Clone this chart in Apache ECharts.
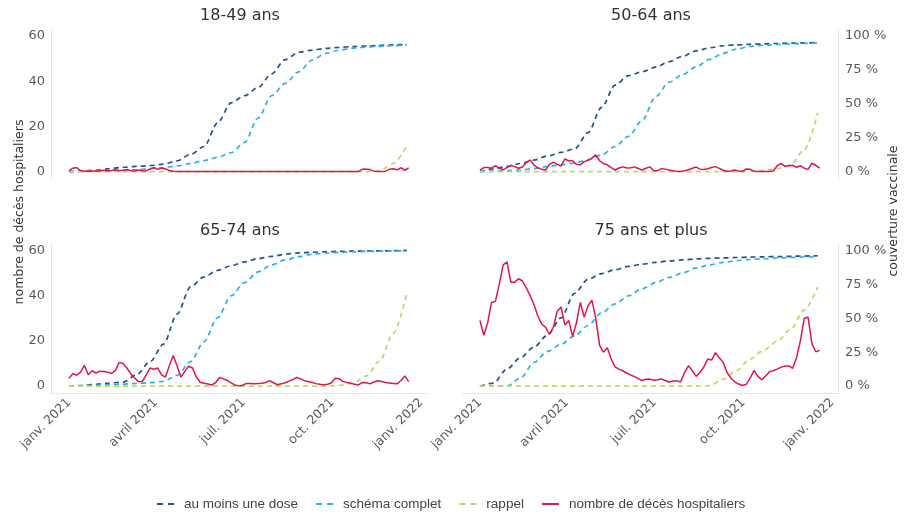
<!DOCTYPE html>
<html>
<head>
<meta charset="utf-8">
<script src="https://cdn.jsdelivr.net/npm/echarts@6/dist/echarts.min.js"></script>
<style>
  html, body { margin: 0; padding: 0; background: #ffffff; }
  #chart { width: 913px; height: 516px; }
</style>
</head>
<body>
<div id="chart"></div>
<script>
// Days are counted from 1 January 2021.
const deathStepDays = 4;      // hospital deaths: one value every 4 days
const coverageStepDays = 14;  // vaccine coverage (%): one value every 14 days

const tickDays = [0, 90, 181, 273, 365];
const tickLabels = ['janv. 2021', 'avril 2021', 'juil. 2021', 'oct. 2021', 'janv. 2022'];
const deathTicks = [0, 20, 40, 60];
const coverageTicks = [0, 25, 50, 75, 100];

const panelTitles = ['18-49 ans', '50-64 ans', '65-74 ans', '75 ans et plus'];
const seriesNames = ['au moins une dose', 'schéma complet', 'rappel', 'nombre de décès hospitaliers'];

// ---- 18-49 ans
const dose1_18_49 = [0, 0.5, 1, 2.2, 3.2, 3.8, 4.4, 5.5, 7.9, 12.7, 18.5, 36, 50.7, 56, 62, 72, 82.5, 88, 89.6, 90.8, 91.6, 92.1, 92.6, 93, 93.4, 93.9];
const complet_18_49 = [0, 0.2, 0.4, 0.7, 1, 1.5, 2, 3, 4.2, 6, 8.1, 10.5, 13.9, 21.5, 39.5, 56, 65, 73.5, 82.3, 87.1, 89.5, 91.1, 91.8, 92.4, 92.9, 93.4];
const rappel_18_49 = [0, 0, 0, 0, 0, 0, 0, 0, 0, 0, 0, 0, 0, 0, 0, 0, 0, 0, 0, 0, 0, 0, 0, 0.5, 6, 19];
const deaths_18_49 = [
  0.3, 1.5, 1.8, 0.5, 0.2, 0.3, 0.2, 0.4, 0.3, 0.6,
  0.3, 0.5, 0.8, 0.4, 0.6, 0.9, 0.5, 0.3, 0.7, 0.4,
  0.3, 1.2, 1.8, 1.0, 1.6, 1.2, 0.5, 0.2, 0, 0,
  0, 0, 0, 0, 0, 0, 0, 0, 0, 0,
  0, 0, 0, 0, 0, 0, 0, 0, 0, 0,
  0, 0, 0, 0, 0, 0, 0, 0, 0, 0,
  0, 0, 0, 0, 0, 0, 0, 0, 0, 0,
  0, 0, 0, 0, 0, 0.1, 1.0, 1.1, 0.9, 0.2,
  0, 0, 0.2, 1.0, 1.3, 0.8, 1.7, 0.6, 1.7
];

// ---- 50-64 ans
const dose1_50_64 = [0, 2, 3.8, 6, 8.5, 11.5, 14.2, 16.7, 28.8, 47.3, 63.7, 70.8, 73.6, 77, 81, 85, 89, 91.3, 92.8, 93.5, 93.9, 94.2, 94.5, 94.7, 94.9, 95.1];
const complet_50_64 = [0, 0.3, 0.7, 1.3, 2.2, 3.8, 5, 6.3, 8.8, 12.3, 18.5, 26, 37.6, 55.2, 65.9, 71.6, 77.3, 82.7, 87.2, 90.4, 92.3, 93.2, 93.7, 94.1, 94.5, 94.8];
const rappel_50_64 = [0, 0, 0, 0, 0, 0, 0, 0, 0, 0, 0, 0, 0, 0, 0, 0, 0, 0, 0, 0, 0.3, 0.8, 2, 5, 16, 43.5];
const deaths_50_64 = [
  0.7, 1.8, 1.8, 1.5, 2.6, 1.5, 0.8, 1.8, 2.8, 2.2,
  1.5, 2.0, 4.0, 5.1, 2.9, 1.7, 1.0, 0.7, 3.2, 4.2,
  3.2, 2.5, 5.6, 4.8, 4.8, 3.2, 3.0, 4.4, 5.0, 6.0,
  7.4, 4.8, 3.6, 3.0, 1.8, 0.7, 1.6, 2.1, 1.6, 1.7,
  2.1, 1.4, 0.7, 1.5, 2.1, 0.5, 0.4, 1.3, 1.1, 0.7,
  0.4, 0.1, 0.1, 0.4, 0.8, 1.5, 2.0, 1.1, 0.9, 1.3,
  1.8, 2.2, 1.4, 0.6, 0.2, 0.3, 0.7, 0.3, 0.1, 1.2,
  1.0, 0.2, 0, 0, 0, 0, 0.3, 2.6, 3.6, 2.3,
  2.6, 2.8, 1.9, 2.6, 1.5, 1.0, 3.7, 2.8, 1.5
];

// ---- 65-74 ans
const dose1_65_74 = [0, 0.5, 1.3, 2.3, 3, 8.4, 18, 31, 53, 73.2, 80.6, 85.3, 88.7, 91.6, 94, 95.6, 97.2, 98.2, 98.7, 99.1, 99.3, 99.5, 99.6, 99.7, 99.8, 100];
const complet_65_74 = [0, 0.2, 0.6, 1, 1.5, 2, 2.5, 3.5, 8, 18, 32.8, 50.4, 66.6, 76.3, 84.2, 89.4, 93, 95.4, 97.2, 98, 98.6, 99, 99.3, 99.5, 99.6, 99.7];
const rappel_65_74 = [0, 0, 0, 0, 0, 0, 0, 0, 0, 0, 0, 0, 0, 0, 0, 0, 0, 0, 0, 0, 0.5, 2, 7.5, 18.5, 39, 68];
const deaths_65_74 = [
  3.5, 5.5, 4.8, 6.2, 9.2, 5.0, 6.8, 5.8, 6.6, 6.5,
  6.2, 5.6, 6.8, 10.5, 10.0, 8.0, 5.5, 3.6, 2.0, 2.0,
  5.0, 8.0, 7.5, 8.0, 5.0, 4.0, 9.0, 13.5, 9.0, 4.0,
  6.5, 8.8, 8.0, 4.0, 1.7, 1.3, 0.9, 0.5, 1.5, 3.8,
  3.2, 2.5, 1.4, 0.5, 0.1, 0.4, 1.2, 1.2, 1.0, 1.2,
  1.3, 1.6, 2.4, 1.5, 0.6, 1.0, 1.5, 2.2, 2.9, 3.8,
  3.2, 2.4, 2.0, 1.6, 1.1, 0.8, 0.6, 0.8, 1.5, 3.5,
  3.3, 2.1, 1.6, 1.3, 0.8, 0.5, 1.6, 1.5, 1.0, 1.8,
  2.4, 2.0, 1.6, 1.4, 1.2, 1.0, 2.5, 4.5, 2.0
];

// ---- 75 ans et plus
const dose1_75 = [0, 2.2, 12.6, 20.9, 28.8, 37.6, 50.3, 68.4, 78.8, 82.9, 85.8, 88.3, 89.9, 91.2, 92.3, 93, 93.8, 94.2, 94.5, 94.8, 95.1, 95.3, 95.5, 95.7, 95.9, 96.1];
const complet_75 = [0, 0, 0, 5.9, 17.4, 25.6, 30.8, 37.1, 44.7, 54.1, 60.6, 66.6, 71.8, 76.3, 80.1, 83.5, 87.1, 89.4, 91.2, 92.5, 93.5, 93.9, 94.4, 94.8, 95.2, 95.6];
const rappel_75 = [0, 0, 0, 0, 0, 0, 0, 0, 0, 0, 0, 0, 0, 0, 0, 0, 0, 0.3, 5, 11.5, 20, 26.5, 33, 42, 56, 73];
const deaths_75 = [
  29, 22.5, 28, 37, 37.5, 45, 53.5, 55, 46, 46,
  47.5, 46.5, 43.5, 40, 36, 31, 27.5, 26, 23, 26,
  33, 35, 27, 29, 22, 28, 37, 30.5, 35.5, 38,
  30, 18, 15, 17, 12, 8.5, 7.5, 6.8, 5.8, 5,
  4.2, 3.3, 2.5, 3, 3.1, 2.6, 2.8, 3.1, 2.5, 1.8,
  2.3, 2.3, 1.9, 6, 9, 6.8, 4.3, 6, 8.5, 12,
  11.5, 14.8, 12.5, 10.5, 6, 3.5, 1.9, 0.9, 0.3, 0.8,
  3.5, 7, 4.3, 2.8, 4.5, 6.4, 6.8, 7.5, 8.4, 8.8,
  9, 7.8, 12.5, 20, 30, 30.5, 18.7, 15.2, 15.8
];

const panelData = [
  [dose1_18_49, complet_18_49, rappel_18_49, deaths_18_49],
  [dose1_50_64, complet_50_64, rappel_50_64, deaths_50_64],
  [dose1_65_74, complet_65_74, rappel_65_74, deaths_65_74],
  [dose1_75, complet_75, rappel_75, deaths_75]
];

// ---- layout & styling
const colors = ['#24528e', '#2ab3e2', '#c2d46a', '#e0164f'];
const labelFont = 'DejaVu Sans';
const gridBoxes = [
  { left: 51, top: 30 },
  { left: 462, top: 30 },
  { left: 51, top: 244.5 },
  { left: 462, top: 244.5 }
];
const gridW = 376, gridH = 149;
const xMin = -18.6, xMax = 371;
const deathMin = -3.27, deathMax = 62.65;
const covMin = -5.45, covMax = 104.4;
const axisLineColor = '#e4e4e4';

// legend glyphs: two short dashes for the coverage curves, a bar for deaths
const dashIcon = 'path://M0,0h6v2H0z M11,0h6v2H11z';
const solidIcon = 'path://M0,0h17v2H0z';

const toPairs = (vals, step) => vals.map((v, i) => [i * step, v]);

const grid = [], xAxis = [], yAxis = [], series = [], graphic = [];

gridBoxes.forEach((g, p) => {
  const isRight = p % 2 === 1;
  const isBottom = p >= 2;
  grid.push({ left: g.left, top: g.top, width: gridW, height: gridH, containLabel: false });

  xAxis.push({
    type: 'value', gridIndex: p, min: xMin, max: xMax,
    show: isBottom,
    axisLine: { show: true, onZero: false, lineStyle: { color: axisLineColor, width: 1 } },
    axisTick: { show: false },
    splitLine: { show: false },
    axisLabel: {
      customValues: tickDays,
      rotate: 45, margin: 7,
      color: '#5a5a5a', fontFamily: labelFont, fontSize: 12.5,
      formatter: v => tickLabels[tickDays.indexOf(v)] || ''
    }
  });

  // deaths axis (left), coverage axis (right)
  yAxis.push({
    type: 'value', gridIndex: p, position: 'left', min: deathMin, max: deathMax,
    show: !isRight,
    axisLine: { show: true, onZero: false, lineStyle: { color: axisLineColor, width: 1 } },
    axisTick: { show: false },
    splitLine: { show: false },
    axisLabel: { customValues: deathTicks, margin: 6, color: '#5a5a5a', fontFamily: labelFont, fontSize: 13 }
  });
  yAxis.push({
    type: 'value', gridIndex: p, position: 'right', min: covMin, max: covMax,
    show: isRight,
    axisLine: { show: true, onZero: false, lineStyle: { color: axisLineColor, width: 1 } },
    axisTick: { show: false },
    splitLine: { show: false },
    axisLabel: { customValues: coverageTicks, margin: 7, color: '#5a5a5a', fontFamily: labelFont, fontSize: 13,
      formatter: v => v + ' %' }
  });

  const [d1, dc, dr, dd] = panelData[p];
  [d1, dc, dr].forEach((vals, k) => {
    series.push({
      name: seriesNames[k], type: 'line',
      xAxisIndex: p, yAxisIndex: 2 * p + 1,
      data: toPairs(vals, coverageStepDays),
      symbol: 'none', smooth: 0.3, smoothMonotone: 'x',
      lineStyle: { color: colors[k], width: 1.7, type: [5, 4] },
      itemStyle: { color: colors[k] }
    });
  });
  series.push({
    name: seriesNames[3], type: 'line',
    xAxisIndex: p, yAxisIndex: 2 * p,
    data: toPairs(dd, deathStepDays),
    symbol: 'none',
    lineStyle: { color: colors[3], width: 1.5 },
    itemStyle: { color: colors[3] }
  });

  graphic.push({
    type: 'text',
    style: {
      text: panelTitles[p], x: g.left + gridW / 2 + 1, y: g.top - 14,
      textAlign: 'center', textVerticalAlign: 'middle',
      font: '16px "DejaVu Sans"', fill: '#333333'
    }
  });
});

graphic.push({
  type: 'text', x: 20, y: 212, rotation: Math.PI / 2,
  style: { text: 'nombre de décès hospitaliers', textAlign: 'center', textVerticalAlign: 'middle',
    font: '12.5px "DejaVu Sans"', fill: '#333333' }
});
graphic.push({
  type: 'text', x: 894, y: 211, rotation: Math.PI / 2,
  style: { text: 'couverture vaccinale', textAlign: 'center', textVerticalAlign: 'middle',
    font: '12.5px "DejaVu Sans"', fill: '#333333' }
});

const chart = echarts.init(document.getElementById('chart'), null, { renderer: 'canvas' });
chart.setOption({
  animation: false,
  backgroundColor: '#ffffff',
  grid, xAxis, yAxis, series, graphic,
  legend: {
    data: seriesNames.map((n, k) => ({ name: n, icon: k < 3 ? dashIcon : solidIcon })),
    left: 152, top: 492,
    itemWidth: 17, itemHeight: 2, itemGap: 18,
    textStyle: { fontFamily: 'Liberation Sans', fontSize: 13.5, color: '#444444', padding: [0, 0, 0, 5] }
  }
});
</script>
</body>
</html>
